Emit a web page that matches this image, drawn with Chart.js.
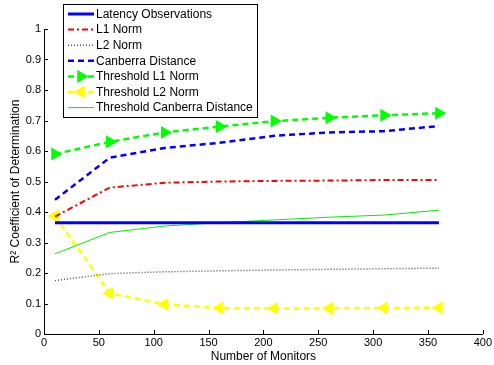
<!DOCTYPE html>
<html>
<head>
<meta charset="utf-8">
<script src="https://cdn.jsdelivr.net/npm/chart.js@4/dist/chart.umd.min.js"></script>
<style>
  html, body { margin: 0; padding: 0; background: #fff; }
  #wrap { width: 494px; height: 365px; }
</style>
</head>
<body>
<div id="wrap"><canvas id="chart" width="494" height="365"></canvas></div>
<script>
const monitors = [10, 60, 110, 160, 210, 260, 310, 360];
const latencyObs = [0.365, 0.365, 0.365, 0.365, 0.365, 0.365, 0.365, 0.365];
const l1Norm = [0.385, 0.48, 0.496, 0.5, 0.502, 0.503, 0.505, 0.505];
const l2Norm = [0.175, 0.198, 0.204, 0.207, 0.21, 0.212, 0.214, 0.216];
const canberra = [0.44, 0.578, 0.61, 0.627, 0.65, 0.661, 0.665, 0.682];
const thrL1 = [0.59, 0.63, 0.661, 0.68, 0.698, 0.709, 0.717, 0.724];
const thrL2 = [0.387, 0.134, 0.097, 0.085, 0.084, 0.084, 0.085, 0.086];
const thrCanberra = [0.263, 0.333, 0.354, 0.365, 0.374, 0.383, 0.39, 0.406];
const xTicks = [0, 50, 100, 150, 200, 250, 300, 350, 400];

const FONT = "'Liberation Sans', Arial, Helvetica, sans-serif";

function pts(vals) {
  return vals.map((v, i) => ({ x: monitors[i], y: v }));
}

// matlab style ticks pointing into the plot
const innerTicks = {
  id: "innerTicks",
  afterDatasetsDraw(chart) {
    const ctx = chart.ctx;
    const xs = chart.scales.x;
    const ys = chart.scales.y;
    ctx.save();
    ctx.strokeStyle = "#000";
    ctx.lineWidth = 1;
    ctx.beginPath();
    xs.ticks.forEach((t) => {
      const px = Math.round(xs.getPixelForValue(t.value)) + 0.5;
      ctx.moveTo(px, ys.bottom);
      ctx.lineTo(px, ys.bottom - 4);
    });
    ys.ticks.forEach((t) => {
      const py = Math.round(ys.getPixelForValue(t.value)) + 0.5;
      ctx.moveTo(xs.left, py);
      ctx.lineTo(xs.left + 4, py);
    });
    ctx.stroke();
    ctx.restore();
  },
};

const boxLegend = {
  id: "boxLegend",
  afterDraw(chart) {
    const ctx = chart.ctx;
    const x0 = 63, y0 = 4, w = 194, h = 113, rowH = 15.6;
    const sets = chart.data.datasets;
    ctx.save();
    ctx.fillStyle = "#fff";
    ctx.fillRect(x0, y0, w, h);
    ctx.strokeStyle = "#000";
    ctx.lineWidth = 1;
    ctx.strokeRect(x0 + 0.5, y0 + 0.5, w, h);
    sets.forEach((ds, i) => {
      const cy = y0 + 10 + i * rowH;
      ctx.strokeStyle = ds.borderColor;
      ctx.lineWidth = ds.borderWidth;
      ctx.setLineDash(ds.borderDash || []);
      ctx.beginPath();
      ctx.moveTo(68, cy);
      ctx.lineTo(94, cy);
      ctx.stroke();
      ctx.setLineDash([]);
      if (ds.pointRadius > 0) {
        ctx.fillStyle = ds.pointBackgroundColor;
        ctx.strokeStyle = ds.pointBorderColor;
        Chart.helpers.drawPoint(ctx, {
          pointStyle: ds.pointStyle,
          rotation: ds.pointRotation,
          radius: ds.pointRadius,
          borderWidth: 1,
        }, 81, cy);
      }
      ctx.fillStyle = "#000";
      ctx.font = "12px " + FONT;
      ctx.textBaseline = "middle";
      ctx.fillText(ds.label, 96, cy + 0.5);
    });
    ctx.restore();
  },
};

function line(label, vals, color, width, dash, extra) {
  return Object.assign({
    label: label,
    data: pts(vals),
    borderColor: color,
    backgroundColor: color,
    borderWidth: width,
    borderDash: dash,
    pointRadius: 0,
    pointHoverRadius: 0,
    fill: false,
    tension: 0,
  }, extra || {});
}

new Chart(document.getElementById("chart"), {
  type: "line",
  data: {
    datasets: [
      line("Latency Observations", latencyObs, "#0000ff", 3, []),
      line("L1 Norm", l1Norm, "#ff0000", 2, [6, 3, 2, 3]),
      line("L2 Norm", l2Norm, "#555555", 1.5, [1, 2]),
      line("Canberra Distance", canberra, "#0000ff", 2.5, [6, 4]),
      line("Threshold L1 Norm", thrL1, "#00ff00", 2.5, [6, 4], {
        pointRadius: 5, pointStyle: "triangle", pointRotation: 90,
        pointBackgroundColor: "#00ff00", pointBorderColor: "#00ff00",
      }),
      line("Threshold L2 Norm", thrL2, "#ffff00", 2.5, [6, 4], {
        pointRadius: 5, pointStyle: "triangle", pointRotation: -90,
        pointBackgroundColor: "#ffff00", pointBorderColor: "#ffff00",
      }),
      line("Threshold Canberra Distance", thrCanberra, "#00ee00", 1, []),
    ],
  },
  options: {
    responsive: false,
    animation: false,
    layout: { padding: { top: 29, right: 10, left: 0, bottom: 0 } },
    plugins: {
      legend: { display: false },
      tooltip: { enabled: false },
    },
    scales: {
      x: {
        type: "linear",
        min: 0,
        max: 400,
        afterBuildTicks: (s) => { s.ticks = xTicks.map((v) => ({ value: v })); },
        afterFit: (s) => { s.height = 31; },
        grid: { display: false, drawTicks: false },
        border: { display: true, color: "#000", width: 1 },
        ticks: { color: "#000", padding: 2, maxRotation: 0, font: { family: FONT, size: 11 } },
        title: {
          display: true, text: "Number of Monitors", color: "#000",
          padding: { top: 0, bottom: 1 }, font: { family: FONT, size: 12 },
        },
      },
      y: {
        min: 0,
        max: 1,
        afterFit: (s) => { s.width = 44; },
        grid: { display: false, drawTicks: false },
        border: { display: true, color: "#000", width: 1 },
        ticks: {
          stepSize: 0.1, color: "#000", padding: 3, font: { family: FONT, size: 11 },
          callback: (v) => String(parseFloat(v.toFixed(1))),
        },
        title: {
          display: true, text: "R² Coefficient of Determination", color: "#000",
          padding: { top: 8, bottom: 0 }, font: { family: FONT, size: 12 },
        },
      },
    },
  },
  plugins: [innerTicks, boxLegend],
});
</script>
</body>
</html>
